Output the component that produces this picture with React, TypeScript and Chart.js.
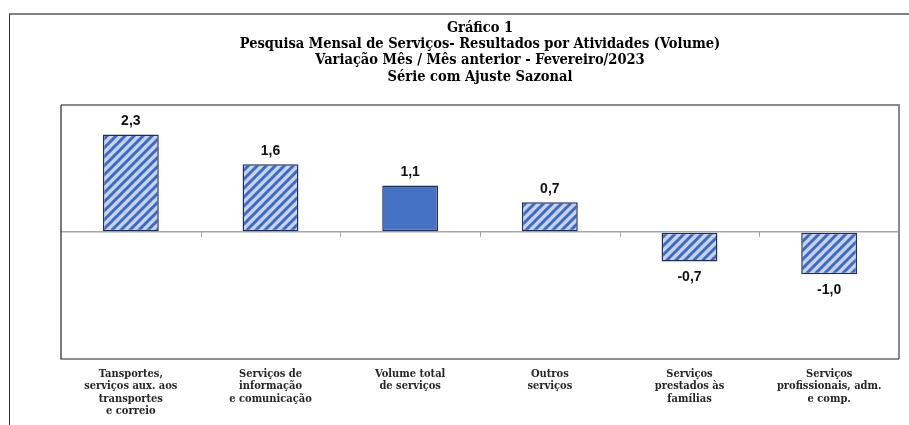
import { useEffect, useRef } from 'react';
import { Chart, registerables } from 'chart.js';

Chart.register(...registerables);

const titleLines = [
  'Gráfico 1',
  'Pesquisa Mensal de Serviços- Resultados por Atividades (Volume)',
  'Variação Mês / Mês anterior - Fevereiro/2023',
  'Série com Ajuste Sazonal',
];

const categories = [
  ['Tansportes,', 'serviços aux. aos', 'transportes', 'e correio'],
  ['Serviços de', 'informação', 'e comunicação'],
  ['Volume total', 'de serviços'],
  ['Outros', 'serviços'],
  ['Serviços', 'prestados às', 'famílias'],
  ['Serviços', 'profissionais, adm.', 'e comp.'],
];

const values = [2.3, 1.6, 1.1, 0.7, -0.7, -1.0];
const hatched = [true, true, false, true, true, true];

const yMin = -3;
const yMax = 3;

const SOLID = '#4472C4';
const STRIPE = '#4368C4';
const LIGHT = '#C2D5F3';
const BORDER = '#1F2F5C';

function makePattern(): CanvasPattern | string {
  const n = 9;
  const c = document.createElement('canvas');
  c.width = n;
  c.height = n;
  const p = c.getContext('2d');
  if (!p) return SOLID;
  p.fillStyle = LIGHT;
  p.fillRect(0, 0, n, n);
  p.strokeStyle = STRIPE;
  p.lineWidth = 3;
  p.beginPath();
  p.moveTo(-1, n + 1);
  p.lineTo(n + 1, -1);
  p.moveTo(-n / 2 - 1, n / 2 + 1);
  p.lineTo(n / 2 + 1, -n / 2 - 1);
  p.moveTo(n / 2 - 1, n * 1.5 + 1);
  p.lineTo(n * 1.5 + 1, n / 2 - 1);
  p.stroke();
  return p.createPattern(c, 'repeat') || SOLID;
}

const framePlugin = {
  id: 'frames',
  beforeDraw(chart: any) {
    const ctx = chart.ctx;
    ctx.save();
    ctx.strokeStyle = '#808080';
    ctx.lineWidth = 2;
    ctx.beginPath();
    ctx.moveTo(9, 14);
    ctx.lineTo(chart.width, 14);
    ctx.stroke();
    ctx.strokeStyle = '#333333';
    ctx.lineWidth = 1;
    ctx.beginPath();
    ctx.moveTo(9.5, 14);
    ctx.lineTo(9.5, chart.height);
    ctx.stroke();
    ctx.restore();
  },
  beforeDatasetsDraw(chart: any) {
    const { ctx, chartArea: a, scales } = chart;
    ctx.save();
    // plot box
    ctx.strokeStyle = '#8a8a8a';
    ctx.lineWidth = 2;
    ctx.beginPath();
    ctx.moveTo(a.left, a.top);
    ctx.lineTo(a.right, a.top);
    ctx.lineTo(a.right, a.bottom);
    ctx.stroke();
    ctx.strokeStyle = '#222222';
    ctx.lineWidth = 1.2;
    ctx.beginPath();
    ctx.moveTo(a.right, a.bottom);
    ctx.lineTo(a.left, a.bottom);
    ctx.lineTo(a.left, a.top);
    ctx.stroke();
    // category boundary ticks on zero line
    const y0 = scales.y.getPixelForValue(0);
    ctx.strokeStyle = '#A6A6A6';
    ctx.lineWidth = 1;
    ctx.beginPath();
    for (let i = 0; i < categories.length - 1; i++) {
      const xb = Math.round((scales.x.getPixelForValue(i) + scales.x.getPixelForValue(i + 1)) / 2) + 0.5;
      ctx.moveTo(xb, y0);
      ctx.lineTo(xb, y0 + 5);
    }
    ctx.stroke();
    ctx.restore();
  },
  afterDatasetsDraw(chart: any) {
    const { ctx } = chart;
    const meta = chart.getDatasetMeta(0);
    ctx.save();
    ctx.fillStyle = '#111111';
    ctx.font = 'bold 14px "Liberation Sans", Arial, sans-serif';
    ctx.textAlign = 'center';
    ctx.textBaseline = 'middle';
    meta.data.forEach((bar: any, i: number) => {
      const v = values[i];
      const txt = v.toFixed(1).replace('.', ',');
      const y = v >= 0 ? bar.y - 13 : bar.y + 16;
      ctx.fillText(txt, bar.x, y);
    });
    ctx.restore();
  },
};

export default function App() {
  const ref = useRef<HTMLCanvasElement | null>(null);

  useEffect(() => {
    if (!ref.current) return;
    const pattern = makePattern();
    const chart = new Chart(ref.current, {
      type: 'bar',
      data: {
        labels: categories,
        datasets: [
          {
            data: values,
            backgroundColor: hatched.map((h) => (h ? pattern : SOLID)) as any,
            borderColor: BORDER,
            borderWidth: 1.5,
            borderSkipped: false,
            barPercentage: 0.4,
            categoryPercentage: 1,
          },
        ],
      },
      options: {
        responsive: false,
        animation: false,
        devicePixelRatio: 1,
        layout: { padding: { left: 61, right: 10, top: 0, bottom: 0 } },
        plugins: {
          legend: { display: false },
          tooltip: { enabled: false },
          title: {
            display: true,
            text: titleLines,
            color: '#000000',
            font: { family: '"DejaVu Serif Condensed", "DejaVu Serif", serif', size: 14.5, weight: 'bold', lineHeight: 1.12 },
            padding: { top: 20, bottom: 20 },
          },
        },
        scales: {
          x: {
            grid: { display: false, drawTicks: false },
            border: { display: false },
            ticks: {
              color: '#262626',
              padding: 9,
              maxRotation: 0,
              autoSkip: false,
              font: { family: '"DejaVu Serif Condensed", "DejaVu Serif", serif', size: 11, weight: 'bold', lineHeight: 1.12 },
            },
            afterFit: (s: any) => {
              s.height = 66;
            },
          },
          y: {
            min: yMin,
            max: yMax,
            ticks: { display: false, stepSize: 1 },
            border: { display: false },
            grid: {
              drawTicks: false,
              lineWidth: 1.5,
              color: (c: any) => (c.tick && c.tick.value === 0 ? '#A6A6A6' : 'rgba(0,0,0,0)'),
            },
            afterFit: (s: any) => {
              s.width = 0;
            },
          },
        },
      },
      plugins: [framePlugin],
    });
    return () => chart.destroy();
  }, []);

  return (
    <div style={{ position: 'absolute', left: 0, top: 0, width: 909, height: 425, background: '#fff' }}>
      <canvas ref={ref} width={909} height={425} style={{ width: 909, height: 425, display: 'block' }} />
    </div>
  );
}
